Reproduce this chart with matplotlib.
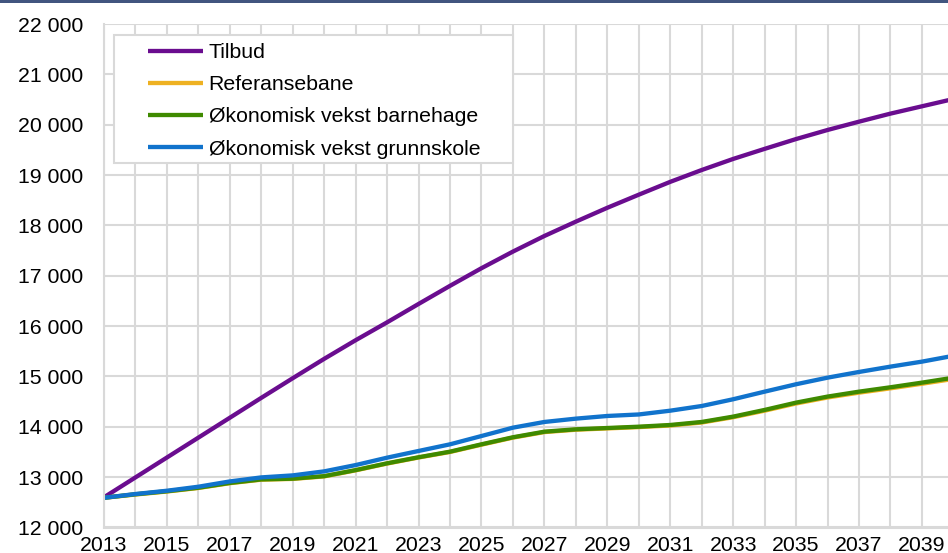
import matplotlib.pyplot as plt
from matplotlib.patches import Rectangle

plt.rcParams['font.family'] = ['Liberation Sans', 'DejaVu Sans']

years = list(range(2013, 2041))

tilbud = [12600, 12995, 13390, 13785, 14180, 14575, 14965, 15350, 15720, 16075,
          16440, 16800, 17150, 17480, 17790, 18075, 18350, 18610, 18865, 19100,
          19320, 19520, 19715, 19895, 20060, 20220, 20365, 20510]
referansebane = [12590, 12655, 12715, 12785, 12880, 12950, 12965, 13015, 13135, 13270,
                 13390, 13500, 13645, 13785, 13895, 13942, 13968, 13994, 14026, 14085,
                 14190, 14320, 14463, 14582, 14678, 14764, 14855, 14950]
vekst_barnehage = [12590, 12660, 12720, 12790, 12885, 12955, 12970, 13020, 13140, 13275,
                   13395, 13506, 13652, 13792, 13903, 13950, 13976, 14002, 14036, 14096,
                   14202, 14335, 14480, 14600, 14698, 14785, 14877, 14975]
vekst_grunnskole = [12590, 12665, 12730, 12810, 12915, 12995, 13035, 13115, 13240, 13387,
                    13520, 13652, 13817, 13983, 14096, 14162, 14215, 14245, 14320, 14413,
                    14547, 14698, 14845, 14976, 15089, 15195, 15294, 15410]

series = [
    ("Tilbud", tilbud, '#6a0d8f'),
    ("Referansebane", referansebane, '#eeb122'),
    ("Økonomisk vekst barnehage", vekst_barnehage, '#3f8a00'),
    ("Økonomisk vekst grunnskole", vekst_grunnskole, '#1173cc'),
]

W, H = 948, 553
fs = 15.3
fig = plt.figure(figsize=(W / 100, H / 100), dpi=100)
ax = fig.add_axes([104 / W, (H - 527.5) / H, (W - 104) / W, 503.5 / H])

for name, vals, col in series:
    ax.plot(years, vals, color=col, lw=3.1, label=name, solid_capstyle='butt')

ax.set_xlim(2013, 2039.83)
ax.set_ylim(12000, 22000)
ax.set_xticks(range(2013, 2040, 2))
ax.set_xticks(range(2014, 2040, 2), minor=True)
ax.set_yticks(range(12000, 22001, 1000))
ax.set_yticklabels([f"{v // 1000} 000" for v in range(12000, 22001, 1000)])

grid = '#d9d9d9'
ax.grid(True, which='both', color=grid, lw=1.5)
ax.set_axisbelow(True)
ax.tick_params(which='both', length=0, labelsize=fs, colors='black')
ax.tick_params(axis='y', pad=15)
ax.tick_params(axis='x', pad=6)
for s in ['top', 'right']:
    ax.spines[s].set_visible(False)
for s in ['left', 'bottom']:
    ax.spines[s].set_color(grid)
    ax.spines[s].set_linewidth(1.5)

# legend box drawn separately so the padding can be uneven
box = Rectangle((114 / W, 1 - 163 / H), 399 / W, 128 / H, transform=fig.transFigure,
                fc='white', ec=grid, lw=1.5, zorder=4.5, clip_on=False)
ax.add_patch(box)
leg = ax.legend(loc='upper left', bbox_to_anchor=(148 / W, 1 - 43 / H),
                bbox_transform=fig.transFigure, frameon=False, borderpad=0,
                borderaxespad=0, handlelength=2.6, handletextpad=0.25,
                labelspacing=0.62, fontsize=fs)
leg.set_zorder(5)

# dark rule along the top edge
fig.add_artist(Rectangle((0, 1 - 2.5 / H), 1, 2.5 / H, transform=fig.transFigure,
                         fc='#41557f', ec='none'))

fig.savefig('out.png', dpi=100)
